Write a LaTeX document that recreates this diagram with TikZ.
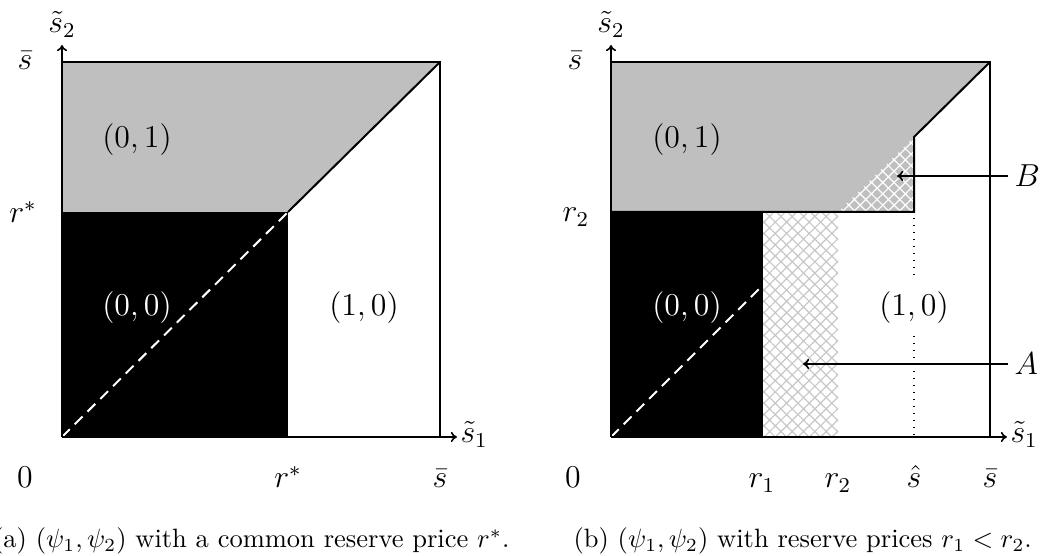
\documentclass[tikz,border=0pt]{standalone}
\usetikzlibrary{patterns.meta,arrows.meta}
\begin{document}
\begin{tikzpicture}[x=0.37736pt,y=-0.37736pt,
  lbl/.style={font=\large, inner sep=0pt},
  captext/.style={font=\normalsize, inner sep=0pt},
  outline/.style={line width=0.755pt, line join=miter},
  axis/.style={line width=0.6pt, -{To[length=2.3pt,width=3.8pt]}},
  arr/.style={line width=0.6pt, -{To[length=2.3pt,width=3.8pt]}},
  diagdash/.style={white, line width=0.755pt, dash pattern=on 4.15pt off 2.64pt},
  hatchP/.style={pattern={Lines[angle=45,distance=3.02pt,line width=0.45pt]}, pattern color=#1},
  hatchN/.style={pattern={Lines[angle=-45,distance=3.02pt,line width=0.45pt]}, pattern color=#1},
  dotline/.style={line width=0.53pt, dash pattern=on 0.53pt off 2.11pt},
  region/.style={font=\large, inner sep=0pt}
]
\useasboundingbox (0,0) rectangle (1042,556);

% ---------------- panel (a) ----------------
\coordinate (aO) at (62,437);
\coordinate (aS) at (440,62);
\coordinate (aTL) at (62,62);
\coordinate (aBR) at (440,437);
\coordinate (aR) at (288,212);
\coordinate (aRL) at (62,212);
\coordinate (aRB) at (288,437);
\coordinate (aX) at (457,437);
\coordinate (aY) at (62,45);

\fill[black!25] (aTL) -- (aS) -- (aR) -- (aRL) -- cycle;
\fill[black] (aRL) rectangle (aRB);
\draw[diagdash] (aO) -- (aR);
\draw[outline] (aR) -- (aS);
\draw[outline] (aTL) -- (aS) -- (aBR);
\draw[axis] (aO) -- (aX);
\draw[axis] (aO) -- (aY);

\node[region] (a01) at (137,140) {$(0,1)$};
\node[region, text=white] (a00) at (137,308) {$(0,0)$};
\node[region] (a10) at (364,308) {$(1,0)$};

\node[lbl, anchor=base] (as2) at (62,33) {$\tilde s_2$};
\node[lbl, anchor=base west] (as1) at (460,443) {$\tilde s_1$};
\node[lbl, anchor=base] (asbarL) at (25,70) {$\bar s$};
\node[lbl, anchor=base] (arL) at (23,223) {$r^*$};
\node[lbl, anchor=base] (a0) at (25,488) {$0$};
\node[lbl, anchor=base] (arB) at (288,488) {$r^*$};
\node[lbl, anchor=base] (asbarB) at (440,488) {$\bar s$};

\node[captext, anchor=base east] (capa) at (510,548) {(a) $(\psi_1,\psi_2)$ with a common reserve price $r^*$.};

% ---------------- panel (b) ----------------
\coordinate (bO) at (611,437);
\coordinate (bS) at (990,62);
\coordinate (bTL) at (611,62);
\coordinate (bBR) at (990,437);
\coordinate (bH) at (914,137);
\coordinate (bHr) at (914,212);
\coordinate (bHb) at (914,437);
\coordinate (bR2L) at (611,212);
\coordinate (bR2) at (838,212);
\coordinate (bR2B) at (838,437);
\coordinate (bR1T) at (763,212);
\coordinate (bR1) at (763,285);
\coordinate (bR1B) at (763,437);
\coordinate (bX) at (1007,437);
\coordinate (bY) at (611,45);

\fill[black!25] (bTL) -- (bS) -- (bH) -- (bHr) -- (bR2L) -- cycle;
\fill[hatchP=white] (bR2) -- (bHr) -- (bH) -- cycle;
\fill[hatchN=white] (bR2) -- (bHr) -- (bH) -- cycle;
\fill[black] (bR2L) rectangle (bR1B);
\fill[hatchP=black!22] (bR1T) rectangle (bR2B);
\fill[hatchN=black!22] (bR1T) rectangle (bR2B);
\draw[diagdash] (bO) -- (bR1);
\draw[dotline] (914,218) -- (914,276);
\draw[dotline] (914,336) -- (bHb);
\draw[outline] (bTL) -- (bS) -- (bBR);
\draw[outline] (bS) -- (bH) -- (bHr) -- (bR2L);
\draw[axis] (bO) -- (bX);
\draw[axis] (bO) -- (bY);

\node[region] (b01) at (687,140) {$(0,1)$};
\node[region, text=white] (b00) at (687,308) {$(0,0)$};
\node[region] (b10) at (914,308) {$(1,0)$};

\node[lbl, anchor=base] (bs2) at (611,33) {$\tilde s_2$};
\node[lbl, anchor=base west] (bs1) at (1010,443) {$\tilde s_1$};
\node[lbl, anchor=base] (bsbarL) at (575,70) {$\bar s$};
\node[lbl, anchor=base] (br2L) at (576,222) {$r_2$};
\node[lbl, anchor=base] (b0) at (573,488) {$0$};
\node[lbl, anchor=base] (br1B) at (762,488) {$r_1$};
\node[lbl, anchor=base] (br2B) at (838,488) {$r_2$};
\node[lbl, anchor=base] (bhat) at (914,488) {$\hat s$};
\node[lbl, anchor=base] (bsbarB) at (990,488) {$\bar s$};

\node[lbl, anchor=west, inner xsep=2.3pt] (B) at (1008,176) {$B$};
\node[lbl, anchor=west, inner xsep=2.3pt] (A) at (1008,364) {$A$};
\coordinate (Bt) at (897,176);
\coordinate (At) at (803,364);
\draw[arr] (B.west) -- (Bt);
\draw[arr] (A.west) -- (At);

\node[captext, anchor=base west] (capb) at (573,548) {(b) $(\psi_1,\psi_2)$ with reserve prices $r_1<r_2$.};
\end{tikzpicture}
\end{document}
